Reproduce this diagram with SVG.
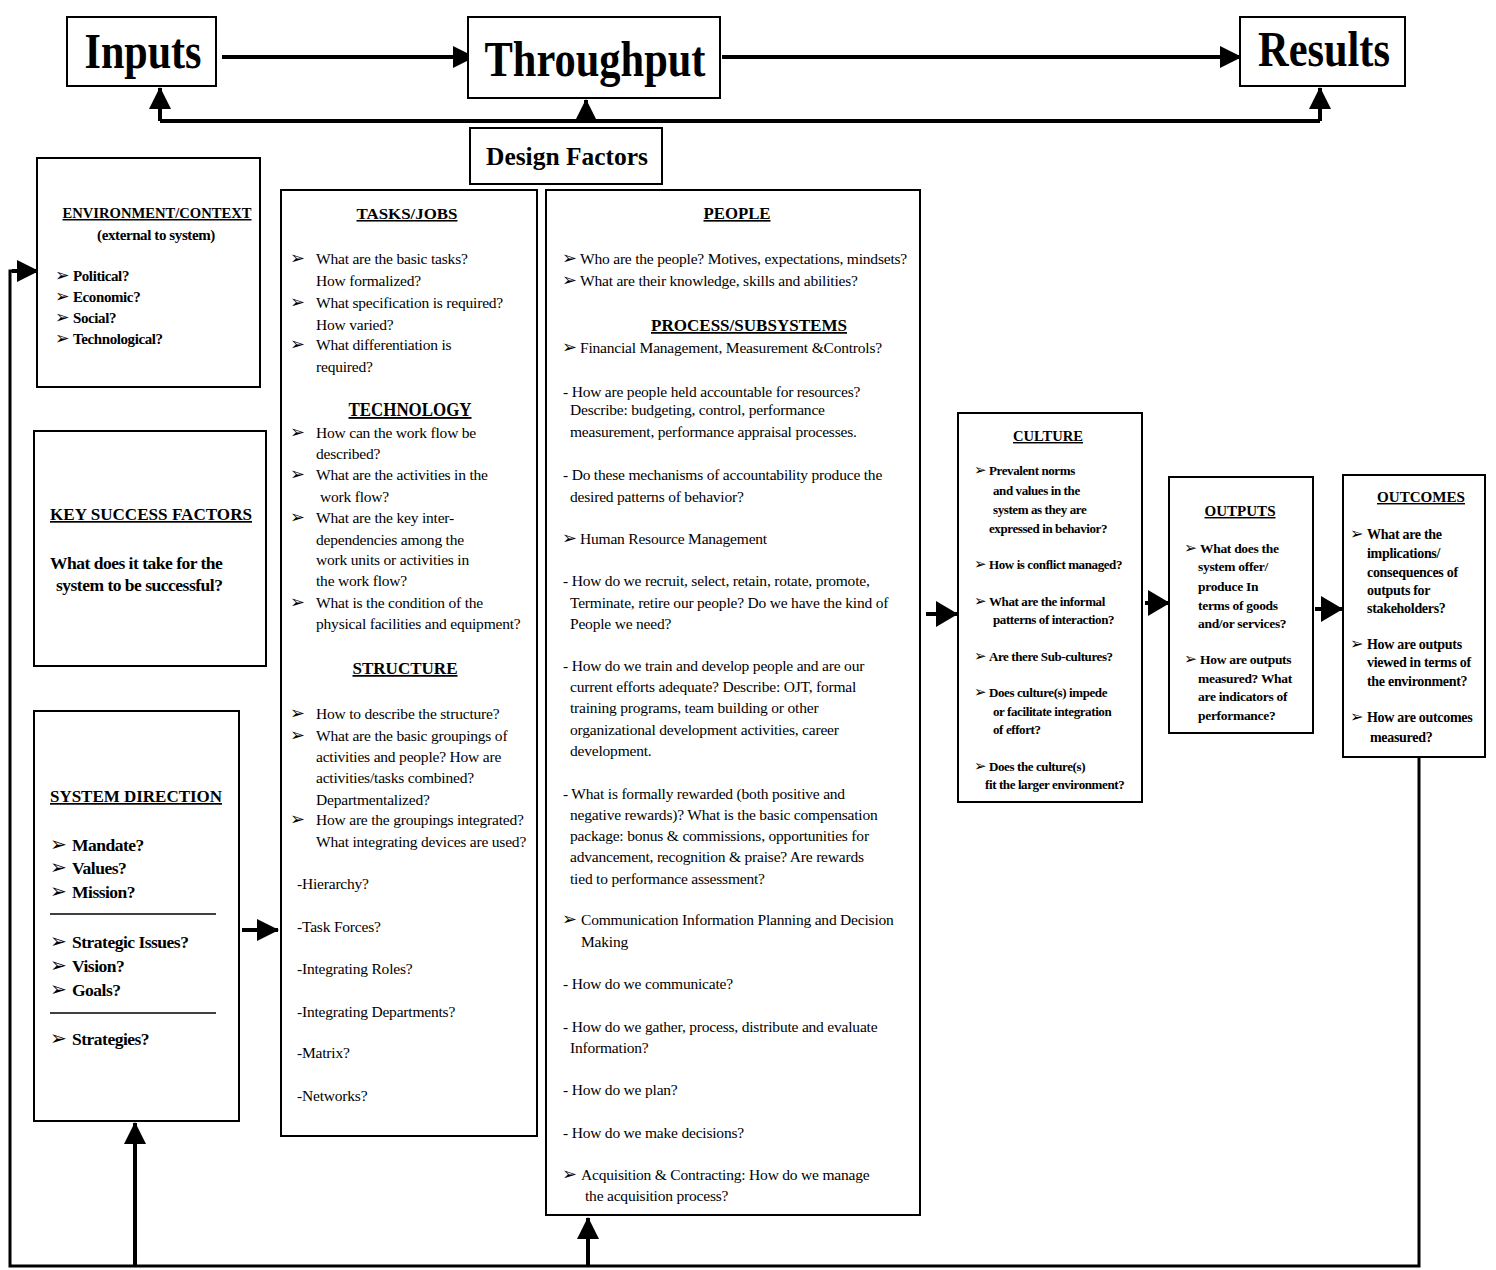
<svg xmlns="http://www.w3.org/2000/svg" width="1496" height="1270" viewBox="0 0 1496 1270">
<style>
text{font-family:"Liberation Serif","Times New Roman",serif;fill:#000}
.big{font-size:50px;font-weight:bold;text-anchor:middle}
.b{font-size:15.5px;letter-spacing:-0.2px}
.bb{font-size:17.5px;font-weight:bold;letter-spacing:-0.5px}
.sb{font-size:15px;font-weight:bold;letter-spacing:-0.4px}
.cb{font-size:13px;font-weight:bold;letter-spacing:-0.4px}
.ob{font-size:13.5px;font-weight:bold;letter-spacing:-0.3px}
.tb{font-size:14px;font-weight:bold;letter-spacing:-0.3px}
.h{font-weight:bold;text-anchor:middle;text-decoration:underline}
.ar{font-family:"DejaVu Sans",sans-serif;font-size:1.15em;font-weight:normal;letter-spacing:0}
.box{fill:#fff;stroke:#000;stroke-width:2}
.ln{stroke:#000;stroke-width:4;fill:none}
.sep{stroke:#000;stroke-width:1.5}
</style>
<defs>
<marker id="ah" markerUnits="userSpaceOnUse" markerWidth="22" markerHeight="22" refX="21" refY="11" orient="auto">
<path d="M0,0 L22,11 L0,22 z" fill="#000"/>
</marker>
<marker id="ah2" markerUnits="userSpaceOnUse" markerWidth="22" markerHeight="26" refX="21" refY="13" orient="auto">
<path d="M0,0 L22,13 L0,26 z" fill="#000"/>
</marker>
</defs>
<rect width="1496" height="1270" fill="#fff"/>

<g id="connectors">
<line class="ln" x1="222" y1="57" x2="474" y2="57" marker-end="url(#ah)"/>
<line class="ln" x1="722" y1="57" x2="1241" y2="57" marker-end="url(#ah)"/>
<polyline class="ln" points="160,121 1320,121"/>
<line class="ln" x1="160" y1="121" x2="160" y2="88" marker-end="url(#ah)"/>
<line class="ln" x1="586" y1="121" x2="586" y2="100" marker-end="url(#ah)"/>
<line class="ln" x1="1320" y1="121" x2="1320" y2="88" marker-end="url(#ah)"/>
<polyline class="ln" points="1419,757 1419,1266 10,1266 10,271 22,271" style="stroke-width:3"/>
<line class="ln" x1="12" y1="271" x2="38" y2="271" marker-end="url(#ah)"/>
<line class="ln" x1="135" y1="1266" x2="135" y2="1123" marker-end="url(#ah)"/>
<line class="ln" x1="588" y1="1266" x2="588" y2="1218" marker-end="url(#ah)"/>
<line class="ln" x1="242" y1="930" x2="278" y2="930" marker-end="url(#ah)"/>
<line class="ln" x1="926" y1="614" x2="957" y2="614" marker-end="url(#ah2)"/>
<line class="ln" x1="1145" y1="603" x2="1169" y2="603" marker-end="url(#ah2)"/>
<line class="ln" x1="1315" y1="609" x2="1342" y2="609" marker-end="url(#ah2)"/>
</g>

<g id="inputs">
<rect class="box" x="67" y="17" width="149" height="69"/>
<text class="big" x="143" y="68" textLength="117" lengthAdjust="spacingAndGlyphs">Inputs</text>
</g>
<g id="throughput">
<rect class="box" x="468" y="17" width="252" height="81"/>
<text class="big" x="595" y="76" textLength="221" lengthAdjust="spacingAndGlyphs">Throughput</text>
</g>
<g id="results">
<rect class="box" x="1240" y="17" width="165" height="69"/>
<text class="big" x="1324" y="66" textLength="132" lengthAdjust="spacingAndGlyphs">Results</text>
</g>
<g id="design-factors">
<rect class="box" x="470" y="128" width="192" height="56"/>
<text x="567" y="165" style="font-size:26px;font-weight:bold;text-anchor:middle" textLength="162" lengthAdjust="spacingAndGlyphs">Design Factors</text>
</g>

<g id="environment">
<rect class="box" x="37" y="158" width="223" height="229"/>
<text class="h" x="157" y="218" style="font-size:15px" textLength="189" lengthAdjust="spacingAndGlyphs">ENVIRONMENT/CONTEXT</text>
<text class="sb" x="156" y="240" style="text-anchor:middle">(external to system)</text>
<text class="sb" y="281"><tspan class="ar" x="55">➢</tspan><tspan x="73">Political?</tspan></text>
<text class="sb" y="302"><tspan class="ar" x="55">➢</tspan><tspan x="73">Economic?</tspan></text>
<text class="sb" y="323"><tspan class="ar" x="55">➢</tspan><tspan x="73">Social?</tspan></text>
<text class="sb" y="344"><tspan class="ar" x="55">➢</tspan><tspan x="73">Technological?</tspan></text>
</g>

<g id="key-success-factors">
<rect class="box" x="34" y="431" width="232" height="235"/>
<text class="h" x="151" y="520" style="font-size:17px" textLength="202" lengthAdjust="spacingAndGlyphs">KEY SUCCESS FACTORS</text>
<text class="bb" x="50" y="569">What does it take for the</text>
<text class="bb" x="56" y="591">system to be successful?</text>
</g>

<g id="system-direction">
<rect class="box" x="34" y="711" width="205" height="410"/>
<text class="h" x="136" y="802" style="font-size:17px" textLength="172" lengthAdjust="spacingAndGlyphs">SYSTEM DIRECTION</text>
<text class="bb" y="851"><tspan class="ar" x="50">➢</tspan><tspan x="72">Mandate?</tspan></text>
<text class="bb" y="874"><tspan class="ar" x="50">➢</tspan><tspan x="72">Values?</tspan></text>
<text class="bb" y="898"><tspan class="ar" x="50">➢</tspan><tspan x="72">Mission?</tspan></text>
<line class="sep" x1="50" y1="914" x2="216" y2="914"/>
<text class="bb" y="948"><tspan class="ar" x="50">➢</tspan><tspan x="72">Strategic Issues?</tspan></text>
<text class="bb" y="972"><tspan class="ar" x="50">➢</tspan><tspan x="72">Vision?</tspan></text>
<text class="bb" y="996"><tspan class="ar" x="50">➢</tspan><tspan x="72">Goals?</tspan></text>
<line class="sep" x1="50" y1="1013" x2="216" y2="1013"/>
<text class="bb" y="1045"><tspan class="ar" x="50">➢</tspan><tspan x="72">Strategies?</tspan></text>
</g>

<g id="tasks-technology-structure">
<rect class="box" x="281" y="190" width="256" height="946"/>
<text class="h" x="407" y="219" style="font-size:15.5px" textLength="101" lengthAdjust="spacingAndGlyphs">TASKS/JOBS</text>
<text class="b" y="264"><tspan class="ar" x="290">➢</tspan><tspan x="316">What are the basic tasks?</tspan></text>
<text class="b" x="316" y="286">How formalized?</text>
<text class="b" y="308"><tspan class="ar" x="290">➢</tspan><tspan x="316">What specification is required?</tspan></text>
<text class="b" x="316" y="330">How varied?</text>
<text class="b" y="350"><tspan class="ar" x="290">➢</tspan><tspan x="316">What differentiation is</tspan></text>
<text class="b" x="316" y="372">required?</text>
<text class="h" x="410" y="416" style="font-size:18.5px" textLength="123" lengthAdjust="spacingAndGlyphs">TECHNOLOGY</text>
<text class="b" y="438"><tspan class="ar" x="290">➢</tspan><tspan x="316">How can the work flow be</tspan></text>
<text class="b" x="316" y="459">described?</text>
<text class="b" y="480"><tspan class="ar" x="290">➢</tspan><tspan x="316">What are the activities in the</tspan></text>
<text class="b" x="320" y="502">work flow?</text>
<text class="b" y="523"><tspan class="ar" x="290">➢</tspan><tspan x="316">What are the key inter-</tspan></text>
<text class="b" x="316" y="545">dependencies among the</text>
<text class="b" x="316" y="565">work units or activities in</text>
<text class="b" x="316" y="586">the work flow?</text>
<text class="b" y="608"><tspan class="ar" x="290">➢</tspan><tspan x="316">What is the condition of the</tspan></text>
<text class="b" x="316" y="629">physical facilities and equipment?</text>
<text class="h" x="405" y="674" style="font-size:17.5px" textLength="105" lengthAdjust="spacingAndGlyphs">STRUCTURE</text>
<text class="b" y="719"><tspan class="ar" x="290">➢</tspan><tspan x="316">How to describe the structure?</tspan></text>
<text class="b" y="741"><tspan class="ar" x="290">➢</tspan><tspan x="316">What are the basic groupings of</tspan></text>
<text class="b" x="316" y="762">activities and people?  How are</text>
<text class="b" x="316" y="783">activities/tasks combined?</text>
<text class="b" x="316" y="805">Departmentalized?</text>
<text class="b" y="825"><tspan class="ar" x="290">➢</tspan><tspan x="316">How are the groupings integrated?</tspan></text>
<text class="b" x="316" y="847">What integrating devices are used?</text>
<text class="b" x="297" y="889">-Hierarchy?</text>
<text class="b" x="297" y="932">-Task Forces?</text>
<text class="b" x="297" y="974">-Integrating Roles?</text>
<text class="b" x="297" y="1017">-Integrating Departments?</text>
<text class="b" x="297" y="1058">-Matrix?</text>
<text class="b" x="297" y="1101">-Networks?</text>
</g>

<g id="people-processes">
<rect class="box" x="546" y="190" width="374" height="1025"/>
<text class="h" x="737" y="219" style="font-size:16.5px" textLength="67" lengthAdjust="spacingAndGlyphs">PEOPLE</text>
<text class="b" y="264"><tspan class="ar" x="562">➢</tspan><tspan x="580">Who are the people? Motives, expectations, mindsets?</tspan></text>
<text class="b" y="286"><tspan class="ar" x="562">➢</tspan><tspan x="580">What are their knowledge, skills and abilities?</tspan></text>
<text class="h" x="749" y="331" style="font-size:17.5px" textLength="196" lengthAdjust="spacingAndGlyphs">PROCESS/SUBSYSTEMS</text>
<text class="b" y="353"><tspan class="ar" x="562">➢</tspan><tspan x="580">Financial Management, Measurement &amp;Controls?</tspan></text>
<text class="b" x="563" y="397">- How are people held accountable for resources?</text>
<text class="b" x="570" y="415">Describe:  budgeting, control, performance</text>
<text class="b" x="570" y="437">measurement, performance appraisal processes.</text>
<text class="b" x="563" y="480">- Do these mechanisms of accountability produce the</text>
<text class="b" x="570" y="502">desired patterns of behavior?</text>
<text class="b" y="544"><tspan class="ar" x="562">➢</tspan><tspan x="580">Human Resource Management</tspan></text>
<text class="b" x="563" y="586">- How do we recruit, select, retain, rotate, promote,</text>
<text class="b" x="570" y="608">Terminate, retire our people?  Do we have the kind of</text>
<text class="b" x="570" y="629">People we need?</text>
<text class="b" x="563" y="671">- How do we train and develop people and are our</text>
<text class="b" x="570" y="692">current efforts adequate?  Describe: OJT, formal</text>
<text class="b" x="570" y="713">training programs, team building or other</text>
<text class="b" x="570" y="735">organizational development activities, career</text>
<text class="b" x="570" y="756">development.</text>
<text class="b" x="563" y="799">- What is formally rewarded (both positive and</text>
<text class="b" x="570" y="820">negative rewards)?  What is the basic compensation</text>
<text class="b" x="570" y="841">package:  bonus &amp; commissions, opportunities for</text>
<text class="b" x="570" y="862">advancement, recognition &amp; praise?  Are rewards</text>
<text class="b" x="570" y="884">tied to performance assessment?</text>
<text class="b" y="925"><tspan class="ar" x="562">➢</tspan><tspan x="581">Communication Information Planning and Decision</tspan></text>
<text class="b" x="581" y="947">Making</text>
<text class="b" x="563" y="989">- How do we communicate?</text>
<text class="b" x="563" y="1032">- How do we gather, process, distribute and evaluate</text>
<text class="b" x="570" y="1053">Information?</text>
<text class="b" x="563" y="1095">- How do we plan?</text>
<text class="b" x="563" y="1138">- How do we make decisions?</text>
<text class="b" y="1180"><tspan class="ar" x="562">➢</tspan><tspan x="581">Acquisition &amp; Contracting:  How do we manage</tspan></text>
<text class="b" x="585" y="1201">the acquisition process?</text>
</g>

<g id="culture">
<rect class="box" x="958" y="413" width="184" height="389"/>
<text class="h" x="1048" y="441" style="font-size:14.5px" textLength="70" lengthAdjust="spacingAndGlyphs">CULTURE</text>
<text class="cb" y="475"><tspan class="ar" x="974">➢</tspan><tspan x="989">Prevalent norms</tspan></text>
<text class="cb" x="993" y="495">and values in the</text>
<text class="cb" x="993" y="514">system as they are</text>
<text class="cb" x="989" y="533">expressed in behavior?</text>
<text class="cb" y="569"><tspan class="ar" x="974">➢</tspan><tspan x="989">How is conflict managed?</tspan></text>
<text class="cb" y="606"><tspan class="ar" x="974">➢</tspan><tspan x="989">What are the informal</tspan></text>
<text class="cb" x="993" y="624">patterns of interaction?</text>
<text class="cb" y="661"><tspan class="ar" x="974">➢</tspan><tspan x="989">Are there Sub-cultures?</tspan></text>
<text class="cb" y="697"><tspan class="ar" x="974">➢</tspan><tspan x="989">Does culture(s) impede</tspan></text>
<text class="cb" x="993" y="716">or facilitate integration</text>
<text class="cb" x="993" y="734">of effort?</text>
<text class="cb" y="771"><tspan class="ar" x="974">➢</tspan><tspan x="989">Does the culture(s)</tspan></text>
<text class="cb" x="985" y="789">fit the larger environment?</text>
</g>

<g id="outputs">
<rect class="box" x="1169" y="477" width="144" height="256"/>
<text class="h" x="1240" y="516" style="font-size:14.5px" textLength="71" lengthAdjust="spacingAndGlyphs">OUTPUTS</text>
<text class="ob" y="553"><tspan class="ar" x="1184">➢</tspan><tspan x="1200">What does the</tspan></text>
<text class="ob" x="1198" y="571">system offer/</text>
<text class="ob" x="1198" y="591">produce In</text>
<text class="ob" x="1198" y="610">terms of goods</text>
<text class="ob" x="1198" y="628">and/or  services?</text>
<text class="ob" y="664"><tspan class="ar" x="1184">➢</tspan><tspan x="1200">How are outputs</tspan></text>
<text class="ob" x="1198" y="683">measured?  What</text>
<text class="ob" x="1198" y="701">are indicators of</text>
<text class="ob" x="1198" y="720">performance?</text>
</g>

<g id="outcomes">
<rect class="box" x="1343" y="475" width="142" height="282"/>
<text class="h" x="1421" y="502" style="font-size:14.5px" textLength="88" lengthAdjust="spacingAndGlyphs">OUTCOMES</text>
<text class="tb" y="539"><tspan class="ar" x="1350">➢</tspan><tspan x="1367">What are the</tspan></text>
<text class="tb" x="1367" y="558">implications/</text>
<text class="tb" x="1367" y="577">consequences of</text>
<text class="tb" x="1367" y="595">outputs for</text>
<text class="tb" x="1367" y="613">stakeholders?</text>
<text class="tb" y="649"><tspan class="ar" x="1350">➢</tspan><tspan x="1367">How are outputs</tspan></text>
<text class="tb" x="1367" y="667">viewed in terms of</text>
<text class="tb" x="1367" y="686">the environment?</text>
<text class="tb" y="722"><tspan class="ar" x="1350">➢</tspan><tspan x="1367">How are outcomes</tspan></text>
<text class="tb" x="1370" y="742">measured?</text>
</g>
</svg>
